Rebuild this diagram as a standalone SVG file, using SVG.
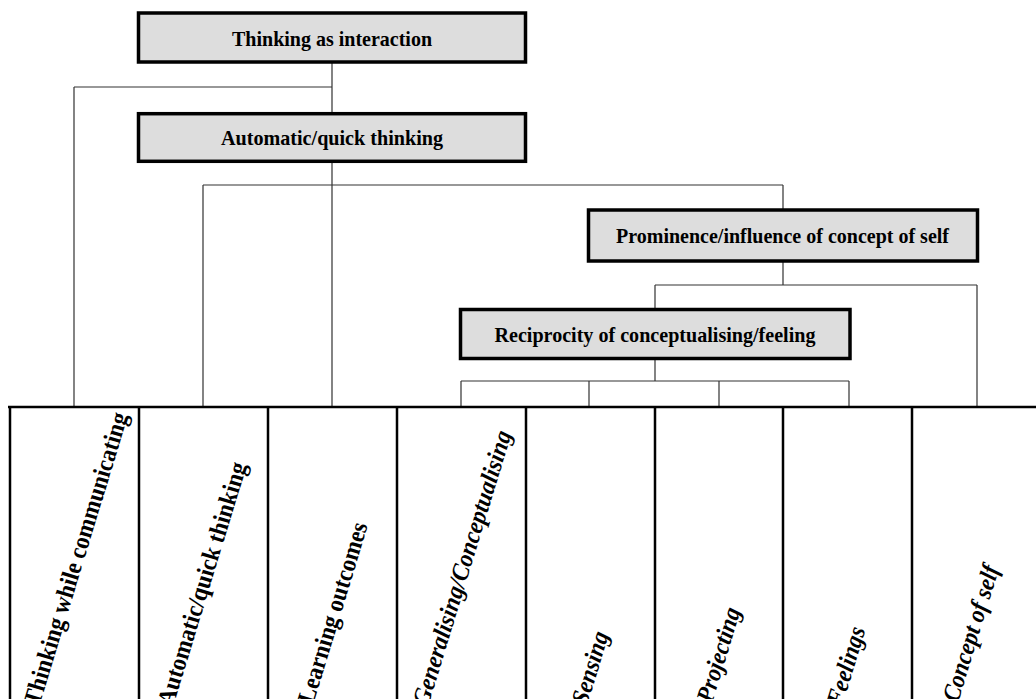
<svg xmlns="http://www.w3.org/2000/svg" width="1036" height="699" viewBox="0 0 1036 699">
<style>
.box{fill:#dddddd;stroke:#000;stroke-width:3.5}
.bt{font-family:"Liberation Serif","Times New Roman",serif;font-weight:bold;font-size:22px;fill:#000;text-anchor:middle}
.lbl{font-family:"Liberation Serif","Times New Roman",serif;font-weight:bold;font-size:25px;fill:#000}
.it{font-style:italic}
.con{stroke:#333;stroke-width:1.2;fill:none}
.col{stroke:#000;stroke-width:2.5;fill:none}
</style>
<rect width="1036" height="699" fill="#fff"/>
<g id="connectors">
<path class="con" d="M332 63V113.7M74 87H332M74 87V407M332 161V407M203 185H783M203 185V407M783 185V210M783 260V285M655 285H977M977 285V407M655 285V309.5M655 358V381M461 381H849M461 381V407M589 381V407M719 381V407M849 381V407"/>
</g>
<g id="n1"><rect class="box" x="138.5" y="13" width="387" height="49"/><text class="bt" x="332" y="46" textLength="200" lengthAdjust="spacingAndGlyphs">Thinking as interaction</text></g>
<g id="n2"><rect class="box" x="138.5" y="113.7" width="387" height="47.6"/><text class="bt" x="332" y="145" textLength="222" lengthAdjust="spacingAndGlyphs">Automatic/quick thinking</text></g>
<g id="n3"><rect class="box" x="588.5" y="210" width="389" height="51"/><text class="bt" x="782.5" y="243" textLength="333" lengthAdjust="spacingAndGlyphs">Prominence/influence of concept of self</text></g>
<g id="n4"><rect class="box" x="460.5" y="309.5" width="389.5" height="49"/><text class="bt" x="655" y="342" textLength="321" lengthAdjust="spacingAndGlyphs">Reciprocity of conceptualising/feeling</text></g>
<g id="table">
<path class="col" d="M8 407H1036" stroke-width="3"/>
<path class="col" d="M10 407V699M139 407V699M268 407V699M397 407V699M526 407V699M655 407V699M783 407V699M912 407V699"/>
</g>
<g id="c1"><text class="lbl" transform="translate(39,707) rotate(-73)" textLength="305" lengthAdjust="spacingAndGlyphs">Thinking while communicating</text></g>
<g id="c2"><text class="lbl" transform="translate(173,707) rotate(-73)" textLength="253" lengthAdjust="spacingAndGlyphs">Automatic/quick thinking</text></g>
<g id="c3"><text class="lbl" transform="translate(313,705) rotate(-73)" textLength="188" lengthAdjust="spacingAndGlyphs">Learning outcomes</text></g>
<g id="c4"><text class="lbl it" transform="translate(428,707) rotate(-73)" textLength="286" lengthAdjust="spacingAndGlyphs">Generalising/Conceptualising</text></g>
<g id="c5"><text class="lbl it" transform="translate(587,706) rotate(-73)" textLength="75" lengthAdjust="spacingAndGlyphs">Sensing</text></g>
<g id="c6"><text class="lbl it" transform="translate(712,704) rotate(-73)" textLength="98" lengthAdjust="spacingAndGlyphs">Projecting</text></g>
<g id="c7"><text class="lbl it" transform="translate(842,707) rotate(-73)" textLength="81" lengthAdjust="spacingAndGlyphs">Feelings</text></g>
<g id="c8"><text class="lbl it" transform="translate(958,703) rotate(-73)" textLength="141" lengthAdjust="spacingAndGlyphs">Concept of self</text></g>
</svg>
